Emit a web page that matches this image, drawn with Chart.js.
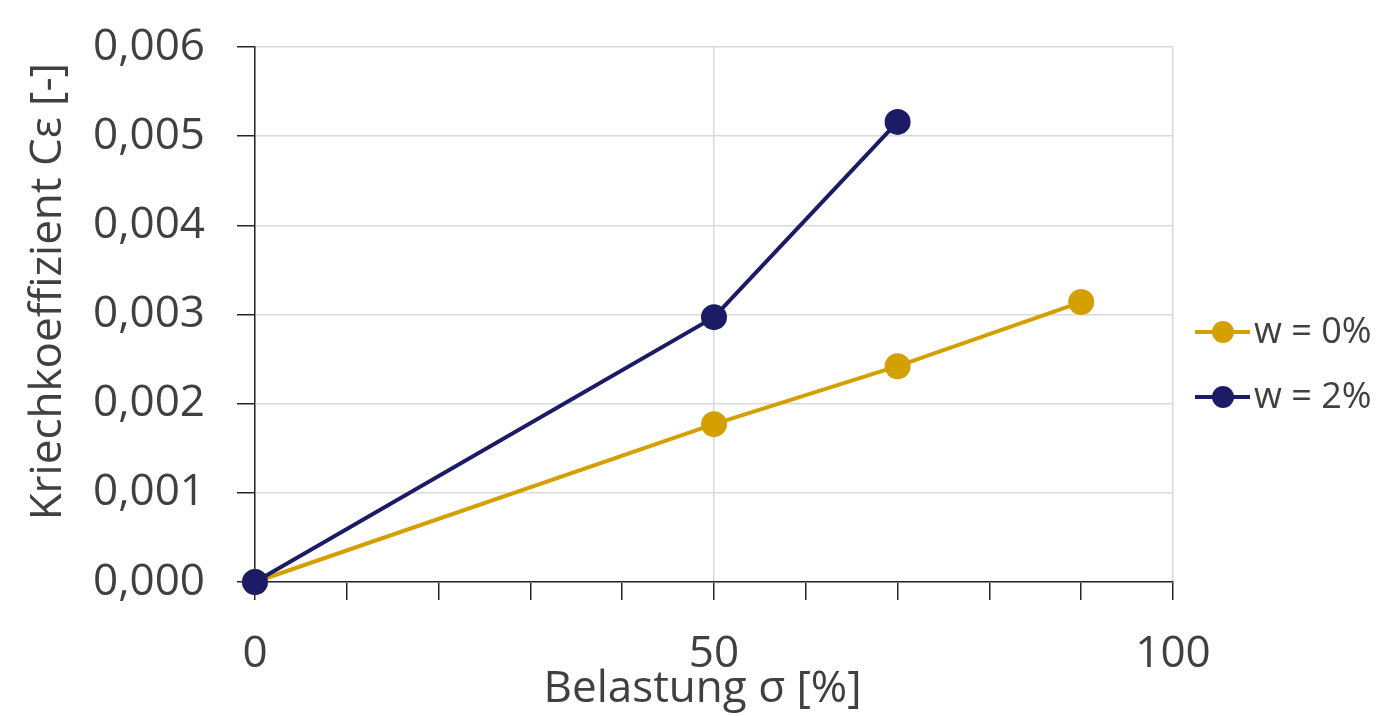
<!DOCTYPE html>
<html>
<head>
<meta charset="utf-8">
<script src="https://cdn.jsdelivr.net/npm/chart.js@4.4.1/dist/chart.umd.min.js"></script>
<style>
  html, body { margin: 0; padding: 0; background: #fff; }
  #wrap { width: 1380px; height: 716px; position: relative; }
</style>
</head>
<body>
<div id="wrap"><canvas id="creep"></canvas></div>
<script>
// Kriechkoeffizient vs. Belastung
const seriesNames = ['w = 0%', 'w = 2%'];
const seriesColors = ['#d3a000', '#1c1c66'];
const load0 = [0, 50, 70, 90];
const creep0 = [0, 0.00177, 0.00242, 0.00314];
const load2 = [0, 50, 70];
const creep2 = [0, 0.00297, 0.00516];

const textColor = '#404040';
const fontFam = '"Open Sans", "Noto Sans", sans-serif';

const toPts = (xs, ys) => xs.map((x, i) => ({ x: x, y: ys[i] }));

// legend drawn by hand: line + dot, like the original
const sideLegend = {
  id: 'sideLegend',
  afterDraw(chart) {
    const c = chart.ctx;
    const rows = [332, 397];
    c.save();
    seriesNames.forEach((name, i) => {
      const y = rows[i];
      c.strokeStyle = seriesColors[i];
      c.lineWidth = 4;
      c.beginPath();
      c.moveTo(1195, y);
      c.lineTo(1250, y);
      c.stroke();
      c.fillStyle = seriesColors[i];
      c.beginPath();
      c.arc(1223, y, 11, 0, Math.PI * 2);
      c.fill();
      c.fillStyle = textColor;
      c.font = '36px ' + fontFam;
      c.textBaseline = 'middle';
      c.fillText(name, 1254, y + 1);
    });
    c.restore();
  }
};

const ctx = document.getElementById('creep').getContext('2d');
const creepChart = new Chart(ctx, {
  type: 'line',
  data: {
    datasets: [{
      label: seriesNames[0],
      data: toPts(load0, creep0),
      borderColor: seriesColors[0],
      backgroundColor: seriesColors[0],
      borderWidth: 4,
      pointRadius: 11,
      pointHoverRadius: 11,
      tension: 0,
      clip: false,
      order: 1
    }, {
      label: seriesNames[1],
      data: toPts(load2, creep2),
      borderColor: seriesColors[1],
      backgroundColor: seriesColors[1],
      borderWidth: 4,
      pointRadius: 11,
      pointHoverRadius: 11,
      tension: 0,
      clip: false,
      order: 0
    }]
  },
  plugins: [sideLegend],
  options: {
    responsive: true,
    maintainAspectRatio: false,
    animation: false,
    layout: { padding: { top: 47, right: 207, left: 22, bottom: 0 } },
    plugins: {
      legend: { display: false },
      tooltip: { enabled: false }
    },
    scales: {
      x: {
        type: 'linear',
        min: 0,
        max: 100,
        afterFit: s => { s.height = 134; s.paddingLeft = 0; s.paddingRight = 0; },
        border: { color: '#262626', width: 1.5 },
        grid: {
          color: c => (c.tick && c.tick.value % 50 === 0) ? '#d9d9d9' : 'rgba(0,0,0,0)',
          lineWidth: 1.5,
          tickColor: '#262626',
          tickLength: 18
        },
        ticks: {
          stepSize: 10,
          autoSkip: false,
          maxRotation: 0,
          padding: 28,
          color: textColor,
          font: { family: fontFam, size: 44 },
          callback: v => (v % 50 === 0 ? String(v) : '')
        },
        title: {
          display: true,
          text: 'Belastung σ [%]  ',
          color: textColor,
          font: { family: fontFam, size: 44 },
          padding: { top: 0, bottom: 0 }
        }
      },
      y: {
        min: 0,
        max: 0.006,
        afterFit: s => { s.width = 233; s.paddingTop = 0; s.paddingBottom = 0; },
        border: { color: '#262626', width: 1.5 },
        grid: {
          color: '#d9d9d9',
          lineWidth: 1.5,
          tickColor: '#262626',
          tickLength: 18
        },
        ticks: {
          stepSize: 0.001,
          padding: 32,
          color: textColor,
          font: { family: fontFam, size: 44 },
          callback: v => v.toFixed(3).replace('.', ',')
        },
        title: {
          display: true,
          text: '    Kriechkoeffizient Cε [-]',
          color: textColor,
          font: { family: fontFam, size: 44 },
          padding: { top: 0, bottom: 0 }
        }
      }
    }
  }
});
</script>
</body>
</html>
